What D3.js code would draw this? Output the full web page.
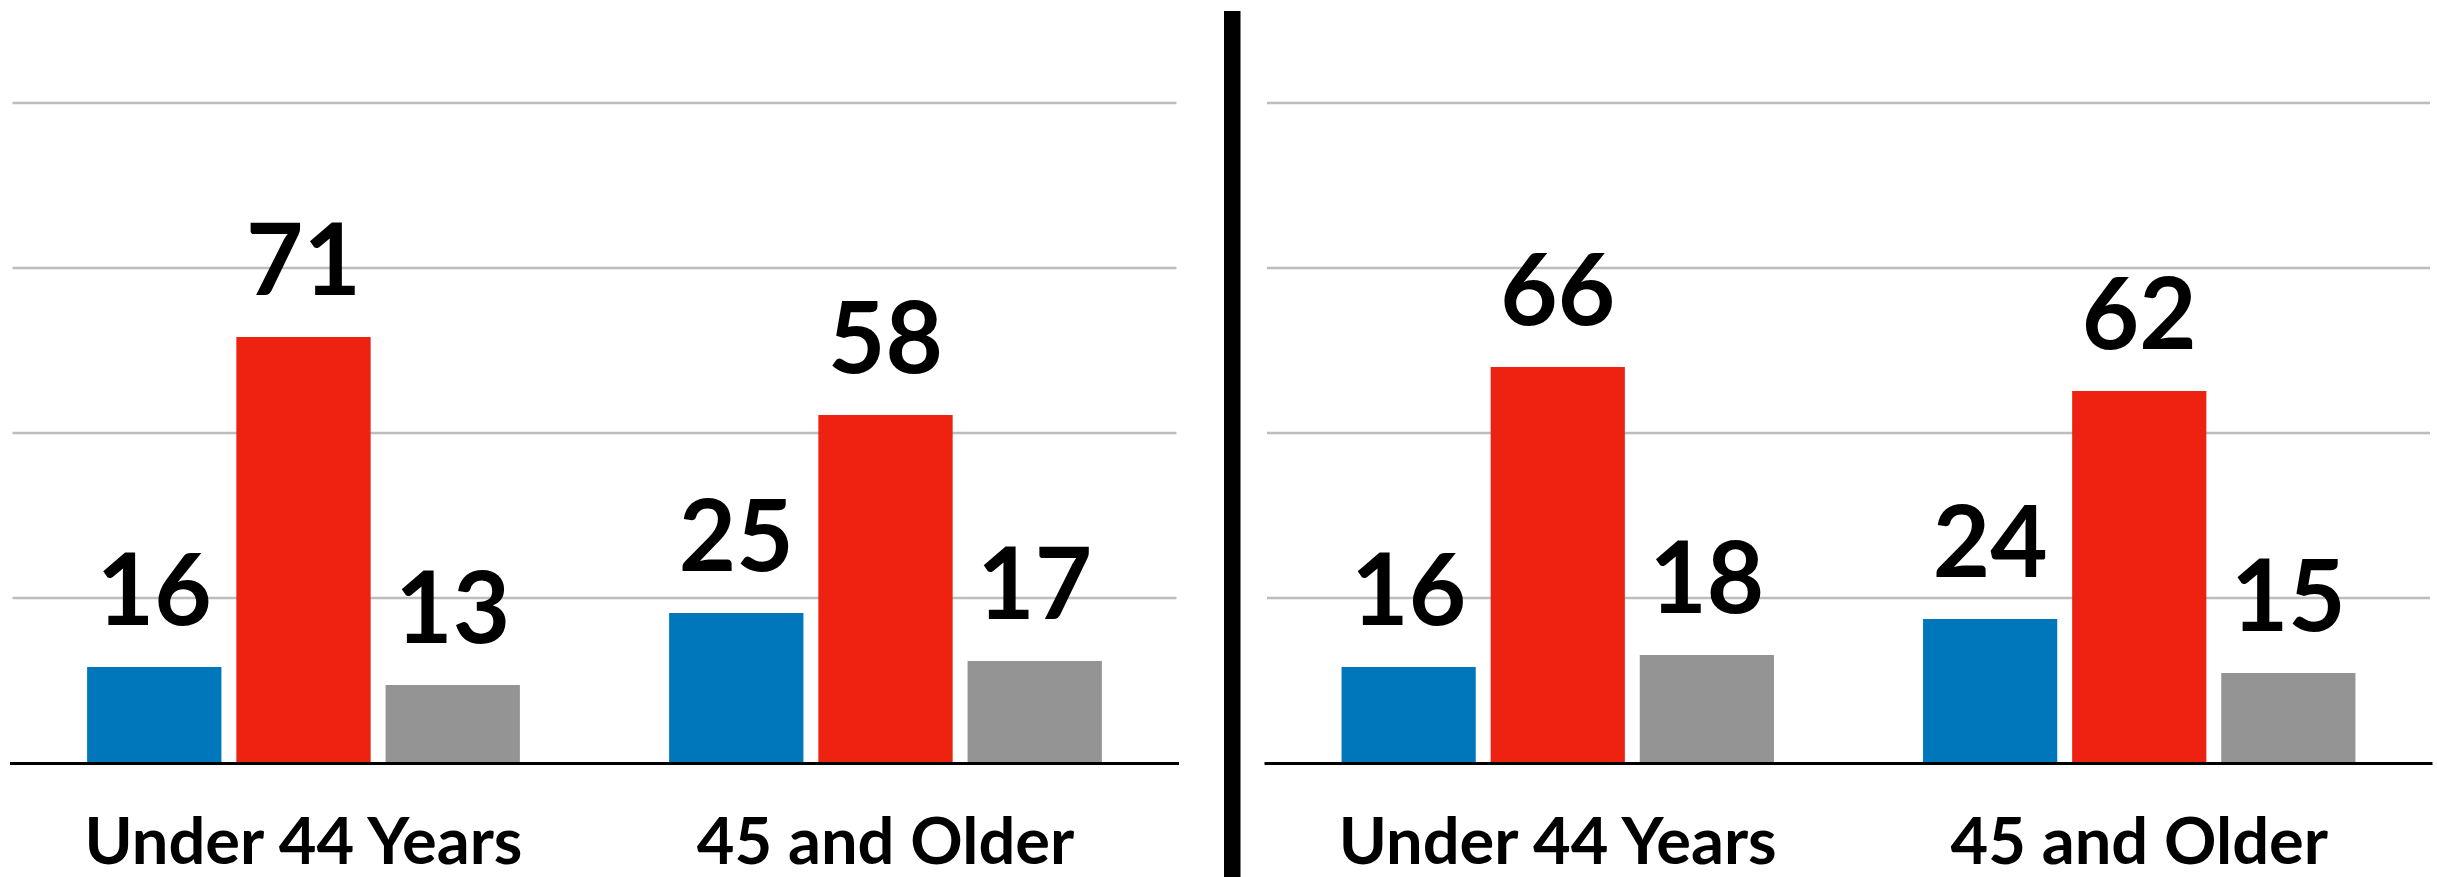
<!DOCTYPE html>
<html>
<head>
<meta charset="utf-8">
<script src="https://cdn.jsdelivr.net/npm/d3@7"></script>
<style>
  html, body { margin: 0; padding: 0; background: #fff; }
  svg { display: block; }
  text { font-family: Lato, "Noto Sans", sans-serif; }
</style>
</head>
<body>
<script>
// ---- Data ----
const categories = ["Under 44 Years", "45 and Older"];
const seriesNames = ["Series A", "Series B", "Series C"];
const leftValues = [[16, 71, 13], [25, 58, 17]];
const rightValues = [[16, 66, 18], [24, 62, 15]];
const gridTicks = [27.5, 55, 82.5, 110];
const yMax = 110;

// ---- Layout / style ----
const W = 2437, H = 877;
const colors = ["#0077BB", "#EE2211", "#949494"];
const panelRanges = [[12.5, 1176.5], [1267, 2430]];
const yRange = [763, 103];

const svg = d3.select("body").append("svg").attr("width", W).attr("height", H);

const y = d3.scaleLinear().domain([0, yMax]).range(yRange);

function drawPanel(values, xr) {
  const g = svg.append("g");
  const x0 = d3.scaleBand().domain(categories).range(xr).paddingInner(0).paddingOuter(0);
  const x1 = d3.scaleBand().domain(seriesNames).range([0, x0.bandwidth()]).paddingInner(0.1).paddingOuter(0.5);

  // gridlines
  g.selectAll("line.grid").data(gridTicks).join("line")
    .attr("class", "grid")
    .attr("x1", xr[0]).attr("x2", xr[1])
    .attr("y1", d => y(d)).attr("y2", d => y(d))
    .attr("stroke", "#bdbdbd").attr("stroke-width", 2.5);

  const groups = g.selectAll("g.grp").data(categories).join("g")
    .attr("class", "grp")
    .attr("transform", d => `translate(${x0(d)},0)`);

  groups.selectAll("rect").data((d, i) => values[i].map((v, j) => ({ v, s: seriesNames[j], j })))
    .join("rect")
    .attr("x", d => x1(d.s)).attr("width", x1.bandwidth())
    .attr("y", d => y(d.v)).attr("height", d => y(0) - y(d.v))
    .attr("fill", d => colors[d.j]);

  groups.selectAll("text.val").data((d, i) => values[i].map((v, j) => ({ v, s: seriesNames[j] })))
    .join("text")
    .attr("class", "val")
    .attr("x", d => x1(d.s) + x1.bandwidth() / 2)
    .attr("y", d => y(d.v) - 42)
    .attr("text-anchor", "middle")
    .attr("font-size", 99).attr("font-weight", 700).attr("fill", "#000")
    .text(d => d.v);

  // baseline
  g.append("line")
    .attr("x1", xr[0] - 2.5).attr("x2", xr[1] + 2.5)
    .attr("y1", y(0) + 0.5).attr("y2", y(0) + 0.5)
    .attr("stroke", "#000").attr("stroke-width", 3);

  // category labels
  const xAxis = d3.axisBottom(x0).tickSize(0).tickPadding(0);
  const ax = g.append("g").attr("transform", `translate(0,${y(0)})`).call(xAxis);
  ax.select(".domain").remove();
  ax.selectAll("text")
    .attr("dy", null).attr("y", 101)
    .attr("font-size", 65).attr("font-weight", 700).attr("fill", "#000")
    .attr("font-family", "Lato, 'Noto Sans', sans-serif");
}

drawPanel(leftValues, panelRanges[0]);
drawPanel(rightValues, panelRanges[1]);

// divider
svg.append("rect").attr("x", 1224).attr("y", 11).attr("width", 16.5).attr("height", H - 11).attr("fill", "#000");
</script>
</body>
</html>
